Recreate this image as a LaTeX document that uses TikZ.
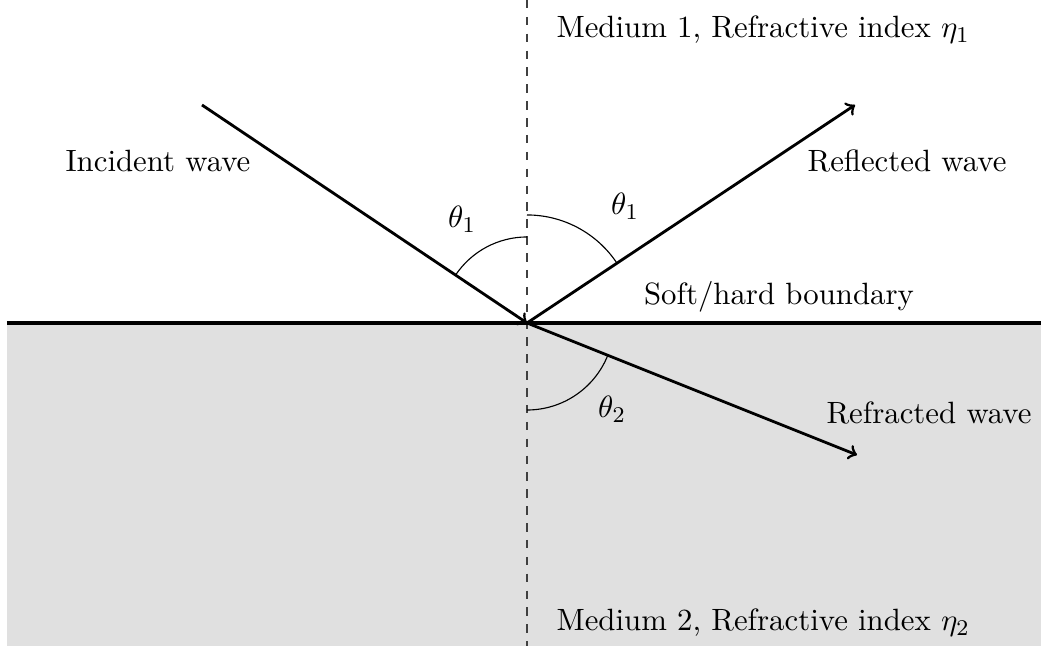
\documentclass[tikz,border=0pt]{standalone}
\usepackage{amsmath,amssymb}
\usetikzlibrary{angles,quotes}
\tikzset{
  ray/.style={line width=1pt,->},
  label text/.style={font=\fontsize{10.95}{13}\selectfont, inner sep=0pt}
}

\begin{document}
\begin{tikzpicture}[x=0.0125cm,y=0.0125cm]
    \useasboundingbox (0,0) rectangle (1041,646);
    \fill[black!12] (7,0) rectangle (1041,323);
    \coordinate (O) at (527,323);
    \coordinate (inc) at (202,541); \coordinate (refl) at (855,541); \coordinate (refr) at (857,191);
    \coordinate (bl) at (7,323); \coordinate (br) at (1041,323);
    \coordinate (top) at (527,646); \coordinate (bot) at (527,0);
    % normal and boundary
    \draw[dashed, black!75, semithick] (top) -- (bot);
    \draw[line width=1.4pt] (bl) -- (br);
    % waves
    \draw[ray] (inc) -- (O); \draw[ray] (O) -- (refl); \draw[ray] (O) -- (refr);
    % angles
    \pic[draw, thin, angle radius=1.075cm] {angle = top--O--inc};
    \pic[draw, thin, angle radius=1.35cm] {angle = refl--O--top};
    \pic[draw, thin, angle radius=1.0875cm] {angle = bot--O--refr};
    % labels
    \node[label text, anchor=base] (incident) at (158,474) {Incident wave};
    \node[label text, anchor=base] (reflected) at (907,474) {Reflected wave};
    \node[label text, anchor=base] (boundary) at (779,341) {Soft/hard boundary};
    \node[label text, anchor=base west] (refracted) at (826,222) {Refracted wave};
    \node[label text, anchor=base] (thetaa) at (462,418) {$\theta_1$};
    \node[label text, anchor=base] (thetab) at (625,431) {$\theta_1$};
    \node[label text, anchor=base] (thetac) at (612,228) {$\theta_2$};
    \node[label text, anchor=base west] (medium1) at (556,608) {Medium 1, Refractive index $\eta_1$};
    \node[label text, anchor=base west] (medium2) at (556,15) {Medium 2, Refractive index $\eta_2$};
\end{tikzpicture}
\end{document}
